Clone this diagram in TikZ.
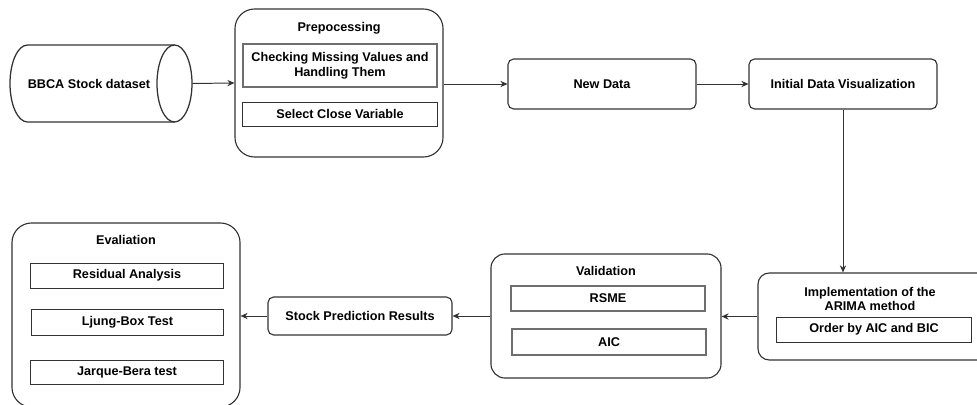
\documentclass[tikz,border=0pt]{standalone}
\usepackage{fontspec}
\setmainfont{Liberation Sans}
\usetikzlibrary{arrows.meta}
\definecolor{edgegray}{RGB}{50,50,50}
\definecolor{innergray}{RGB}{110,110,110}

\tikzset{
  stagebox/.style={draw=edgegray, line width=0.8pt, rounded corners=4pt, inner sep=1pt, align=center},
  groupbox/.style={draw=edgegray, line width=0.8pt, inner sep=0pt},
  itembox/.style={draw=edgegray, line width=0.7pt, inner sep=1pt, align=center, minimum width=4.85cm},
  flow/.style={draw=edgegray, line width=0.7pt, -{Stealth[length=5pt,width=4.5pt]}},
}

\begin{document}
\begin{tikzpicture}[x=0.025cm, y=-0.025cm, font=\fontsize{9}{10.5}\selectfont\bfseries]
            \clip (0,0) rectangle (977,405);
            % Data source (drum)
            \draw[edgegray, line width=0.9pt] (174.5,45) -- (27.5,45) arc[start angle=90, end angle=270, x radius=0.4375cm, y radius=0.9625cm]
                -- (174.5,122);
            \draw[edgegray, line width=0.9pt] (174.5,83.5) ellipse[x radius=0.4375cm, y radius=0.9625cm];
            \node[minimum width=4.55cm, minimum height=1.925cm, inner sep=0pt] (dataset) at (101,83.5) {};
            \node (datasettext) at (89,83.5) {BBCA Stock dataset};
            % Prepocessing
            \node[groupbox, rounded corners=14pt, minimum width=5.2cm, minimum height=3.7cm] (prep) at (339,83) {};
            \node (preptitle) at (339,28) {Prepocessing};
            \node[itembox, draw=innergray, line width=1.2pt, minimum height=1.075cm] (missing) at (340,65.5) {Checking Missing Values and\\Handling Them};
            \node[itembox, minimum height=0.6cm] (closevar) at (340,114) {Select Close Variable};
            % New data & visualization
            \node[stagebox, minimum width=4.7cm, minimum height=1.25cm] (newdata) at (602,84) {New Data};
            \node[stagebox, minimum width=4.7cm, minimum height=1.25cm] (visual) at (843,84) {Initial Data Visualization};
            % ARIMA
            \node[groupbox, rounded corners=8pt, minimum width=5.8cm, minimum height=2.175cm] (arima) at (874,316.5) {};
            \node[align=center] (arimatitle) at (870,299) {Implementation of the\\ARIMA method};
            \node[itembox, minimum height=0.625cm] (order) at (874,329.5) {Order by AIC and BIC};
            % Validation
            \node[groupbox, rounded corners=10pt, minimum width=5.75cm, minimum height=3.1cm] (valid) at (606,316) {};
            \node (validtitle) at (606,271) {Validation};
            \node[itembox, draw=innergray, line width=1pt, minimum height=0.625cm] (rsme) at (608,298.5) {RSME};
            \node[itembox, draw=innergray, line width=1pt, minimum height=0.65cm] (aic) at (609,342) {AIC};
            % Results
            \node[stagebox, minimum width=4.6cm, minimum height=0.95cm] (results) at (360,316) {Stock Prediction Results};
            % Evaluation
            \node[groupbox, rounded corners=14pt, minimum width=5.7cm, minimum height=4.6cm] (eval) at (126,315) {};
            \node (evaltitle) at (126,240) {Evaliation};
            \node[itembox, minimum width=4.8cm, minimum height=0.625cm] (residual) at (127,275.5) {Residual Analysis};
            \node[itembox, minimum width=4.775cm, minimum height=0.65cm] (ljung) at (127.5,322) {Ljung-Box Test};
            \node[itembox, minimum width=4.8cm, minimum height=0.6cm] (jarque) at (127,372) {Jarque-Bera test};
            % Connectors
            \draw[flow] (dataset.east) -- (prep.west);
            \draw[flow] (prep.east |- newdata.west) -- (newdata.west);
            \draw[flow] (newdata) -- (visual);
            \draw[flow] (visual.south) -- (visual.south |- arima.north);
            \draw[flow] (arima.west) -- (valid.east |- arima.west);
            \draw[flow] (valid.west) -- (results.east);
            \draw[flow] (results.west) -- (eval.east |- results.west);
        \end{tikzpicture}
\end{document}
